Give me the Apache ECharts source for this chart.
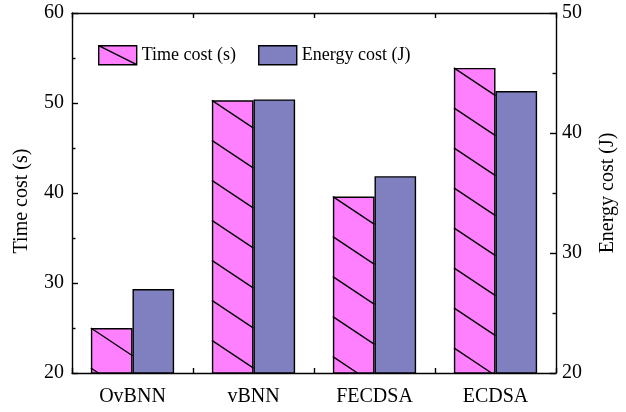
<!DOCTYPE html>
<html>
<head>
<meta charset="utf-8">
<script src="https://cdn.jsdelivr.net/npm/echarts@6/dist/echarts.min.js"></script>
<style>html,body{margin:0;padding:0;background:#fff;}#c{width:626px;height:412px;}</style>
</head>
<body>
<div id="c"></div>
<script>
const categories = ['OvBNN', 'vBNN', 'FECDSA', 'ECDSA'];
const timeCost = [25.0, 50.3, 39.6, 53.9];
const energyCost = [27.0, 42.8, 36.4, 43.5];
const leftTicks = [20, 30, 40, 50, 60];
const rightTicks = [20, 30, 40, 50];

const FONT = 'Liberation Serif';
const PINK = '#FF80FF';
const PURPLE = '#8080C0';
const BAR_RATIO = 0.344;

const chart = echarts.init(document.getElementById('c'), null, {renderer: 'canvas'});

function hatch(params, api) {
  const idx = api.value(0);
  const val = api.value(1);
  const p = api.coord([idx, val]);
  const bottom = api.coord([idx, leftTicks[0]])[1];
  const bw = api.size([1, 0])[0];
  const w = bw * BAR_RATIO;
  const x0 = p[0] - w;
  const top = p[1];
  const spacing = 40, slope = 0.667;
  const children = [];
  for (let yL = top; yL < bottom; yL += spacing) {
    let x2 = x0 + w, y2 = yL + w * slope;
    if (y2 > bottom) { x2 = x0 + (bottom - yL) / slope; y2 = bottom; }
    children.push({type: 'line', shape: {x1: x0, y1: yL, x2: x2, y2: y2},
      style: {stroke: '#000', lineWidth: 1.4}});
  }
  return {type: 'group', children: children};
}

const axisLine = {show: true, lineStyle: {color: '#000', width: 1.4}};

chart.setOption({
  animation: false,
  backgroundColor: '#fff',
  grid: {left: 72, right: 65, top: 13, bottom: 39},
  legend: {
    left: 98, top: 45, padding: 0, itemWidth: 38, itemHeight: 19, itemGap: 22,
    textStyle: {fontFamily: FONT, fontSize: 18, color: '#000'},
    data: [
      {name: 'Time cost (s)', icon: 'path://M0,0L38,0L38,19L0,19ZM0,0L38,19',
        itemStyle: {color: PINK, borderColor: '#000', borderWidth: 1.4}},
      {name: 'Energy cost (J)', icon: 'rect',
        itemStyle: {color: PURPLE, borderColor: '#000', borderWidth: 1.4}}
    ]
  },
  xAxis: [{
    type: 'category', data: categories, position: 'bottom',
    axisLine: axisLine,
    axisTick: {show: true, inside: true, length: 5, lineStyle: {color: '#000', width: 1.4}},
    axisLabel: {fontFamily: FONT, fontSize: 20, color: '#000', margin: 14},
    splitLine: {show: false}
  }, {
    type: 'category', data: categories, position: 'top',
    axisLine: axisLine,
    axisTick: {show: true, inside: true, length: 5, lineStyle: {color: '#000', width: 1.4}},
    axisLabel: {show: false},
    splitLine: {show: false}
  }],
  yAxis: [{
    type: 'value', min: 20, max: 60, interval: 10, position: 'left',
    name: 'Time cost (s)', nameLocation: 'middle', nameGap: 40,
    nameTextStyle: {fontFamily: FONT, fontSize: 20, color: '#000', padding: [0, 16, 0, 0]},
    axisLine: axisLine,
    axisTick: {show: true, inside: true, length: 6, lineStyle: {color: '#000', width: 1.4}},
    minorTick: {show: true, splitNumber: 2, length: 3.5, lineStyle: {color: '#000', width: 1.4}},
    axisLabel: {fontFamily: FONT, fontSize: 20, color: '#000', margin: 8},
    splitLine: {show: false}
  }, {
    type: 'value', min: 20, max: 50, interval: 10, position: 'right',
    name: 'Energy cost (J)', nameLocation: 'middle', nameGap: 42,
    nameTextStyle: {fontFamily: FONT, fontSize: 20, color: '#000'},
    axisLine: axisLine,
    axisTick: {show: true, inside: true, length: 6, lineStyle: {color: '#000', width: 1.4}},
    minorTick: {show: true, splitNumber: 2, length: 3.5, lineStyle: {color: '#000', width: 1.4}},
    axisLabel: {fontFamily: FONT, fontSize: 20, color: '#000', margin: 6},
    splitLine: {show: false}
  }],
  series: [{
    name: 'Time cost (s)', type: 'bar', yAxisIndex: 0, data: timeCost,
    barWidth: (BAR_RATIO * 100) + '%', barGap: '0%',
    itemStyle: {color: PINK, borderColor: '#000', borderWidth: 1.4},
    z: 2
  }, {
    name: 'Energy cost (J)', type: 'bar', yAxisIndex: 1, data: energyCost,
    barWidth: (BAR_RATIO * 100) + '%', barGap: '0%',
    itemStyle: {color: PURPLE, borderColor: '#000', borderWidth: 1.4},
    z: 2
  }, {
    name: 'hatch', type: 'custom', yAxisIndex: 0, silent: true, z: 3,
    renderItem: hatch,
    data: timeCost.map((v, i) => [i, v])
  }]
});
</script>
</body>
</html>
